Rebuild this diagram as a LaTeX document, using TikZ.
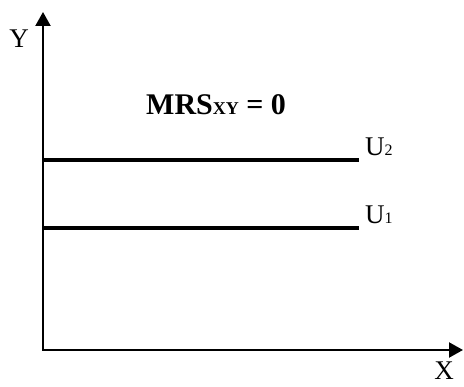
\documentclass[tikz,border=0pt]{standalone}
\usepackage{fontspec}
\setmainfont{Liberation Serif}
\usetikzlibrary{positioning,arrows.meta}

\begin{document}
\begin{tikzpicture}[x=1pt, y=1pt,
    axis/.style={line width=2.2pt, line join=miter, {Triangle[width=15pt,length=14pt]}-{Triangle[width=15pt,length=14pt]}},
    curve/.style={line width=4.8pt},
    every node/.style={font=\fontsize{27}{27}\selectfont, inner sep=0pt}]
    \useasboundingbox (0,0) rectangle (464,387);
    % axes
    \coordinate (o) at (43,37);
    \coordinate (ytop) at (43,375);
    \coordinate (xend) at (463,37);
    \draw[axis] (ytop) -- (o) -- (xend);
    \node (ylab) at (19,348) {Y};
    \node[anchor=base] (xlab) at (444,7) {X};
    % indifference curves
    \coordinate (u2a) at (43,227);
    \coordinate (u2b) at (359,227);
    \coordinate (u1a) at (43,159);
    \coordinate (u1b) at (359,159);
    \draw[curve] (u2a) -- (u2b);
    \draw[curve] (u1a) -- (u1b);
    \node[anchor=base west] (u2lab) at (365,231) {U{\fontsize{16}{16}\selectfont 2}};
    \node[anchor=base west] (u1lab) at (365,163) {U{\fontsize{16}{16}\selectfont 1}};
    \node[anchor=base west, font=\fontsize{30}{30}\selectfont\bfseries] (mrs) at (146,272) {MRS{\fontsize{18}{18}\selectfont XY} = 0};
\end{tikzpicture}
\end{document}
